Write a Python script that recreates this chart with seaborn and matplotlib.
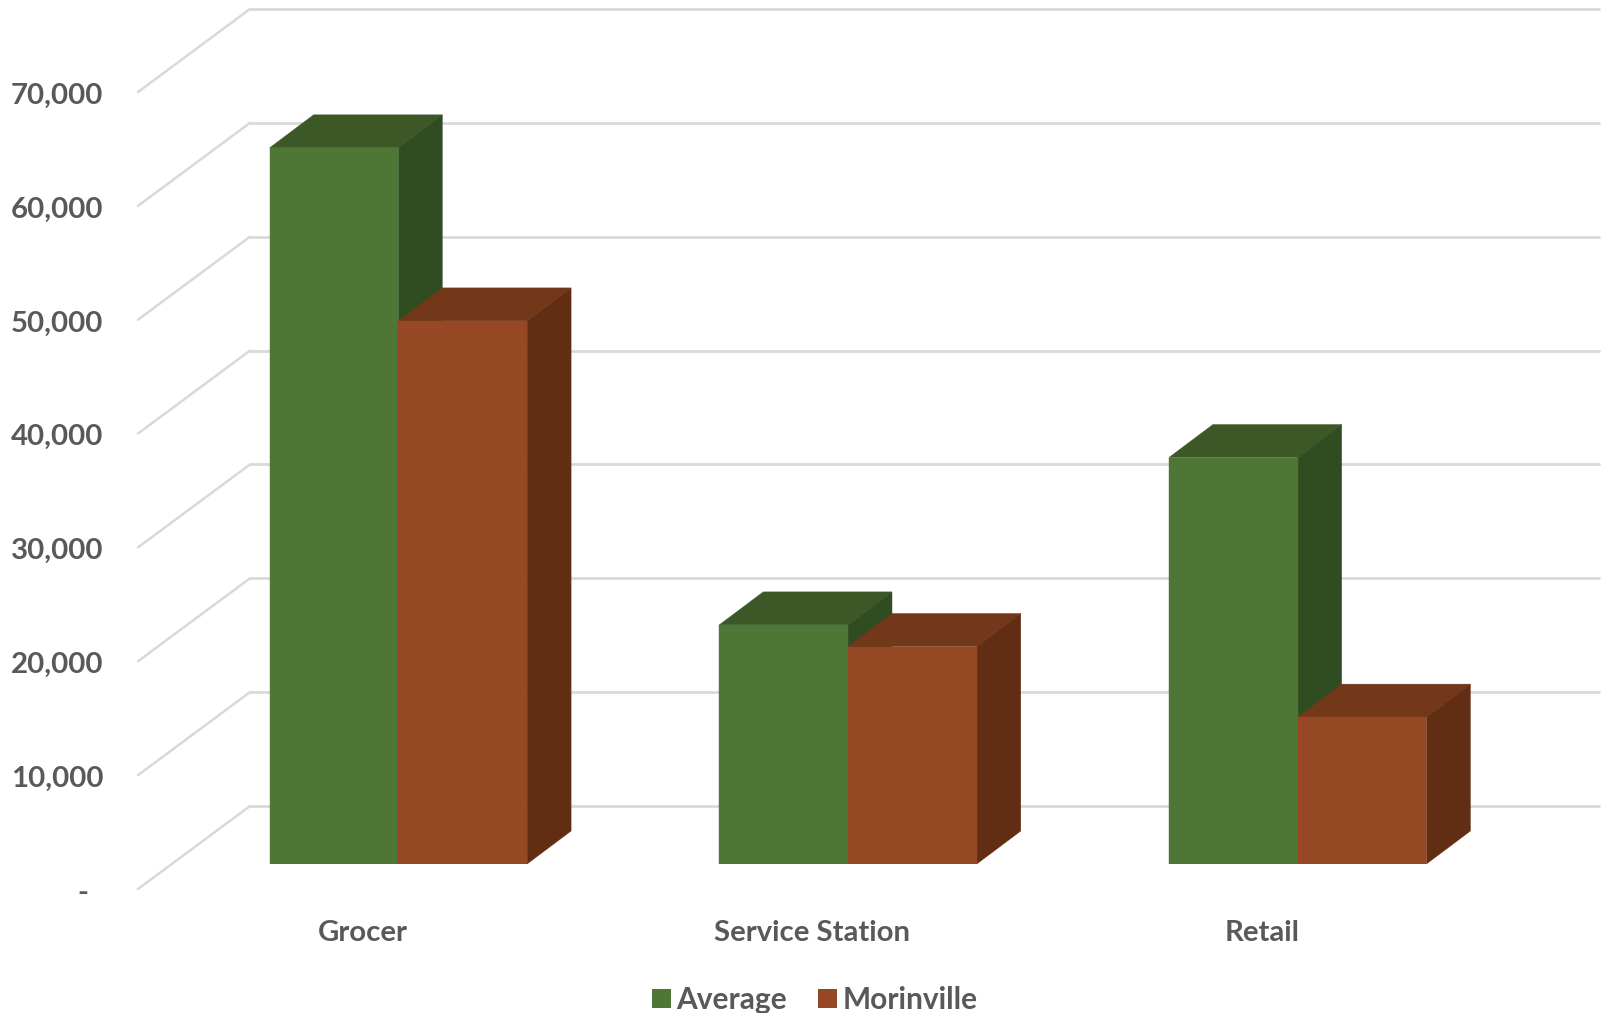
import matplotlib
matplotlib.use("Agg")
import matplotlib.pyplot as plt
from matplotlib.patches import Polygon, ConnectionPatch
from matplotlib.transforms import ScaledTranslation
import pandas as pd
import seaborn as sns

categories = ["Grocer", "Service Station", "Retail"]
average = [62900, 21000, 35700]
morinville = [47700, 19100, 12900]
series_names = ["Average", "Morinville"]
yticks = [0, 10000, 20000, 30000, 40000, 50000, 60000, 70000]

FRONT = {"Average": "#4E7635", "Morinville": "#964723"}
TOP = {"Average": "#3C5827", "Morinville": "#73371A"}
SIDE = {"Average": "#304C21", "Morinville": "#622E13"}
GRID = "#D9D9D9"
TEXT = "#595959"
FONT = "Lato"
FS = 21.2

W, H = 1602, 1013
sns.set_theme(style="white")
plt.rcParams["font.family"] = [FONT, "DejaVu Sans"]
fig = plt.figure(figsize=(W / 100, H / 100), dpi=100, facecolor="white")

PLOT_W, PLOT_H = 1349, 797


def make_axes(left_px, base_px, z):
    ax = fig.add_axes([left_px / W, 1 - base_px / H, PLOT_W / W, PLOT_H / H], zorder=z)
    ax.set_xlim(-0.5, 2.5)
    ax.set_ylim(0, 70000)
    ax.patch.set_alpha(0)
    sns.despine(ax=ax, left=True, bottom=True)
    return ax


ax_back = make_axes(250, 806, 0)
ax_front = make_axes(138, 889, 1)
ax_bar = make_axes(173.5, 864, 2)

# Back wall
ax_back.set_yticks(yticks)
ax_back.set_xticks([])
ax_back.tick_params(left=False, labelleft=False)
ax_back.grid(axis="y", color=GRID, lw=2.0)
ax_back.set_axisbelow(True)
for s in ax_back.spines.values():
    s.set_visible(False)
for line in ax_back.get_ygridlines():
    line.set_clip_on(False)

# Side wall
for v in yticks:
    fig.add_artist(ConnectionPatch(xyA=(-0.5, v), coordsA=ax_front.transData,
                                   xyB=(-0.5, v), coordsB=ax_back.transData,
                                   color=GRID, lw=1.8, zorder=0.5))

# Axis labels on the front edge of the floor
ax_front.set_xticks(range(3))
ax_front.set_xticklabels(categories)
ax_front.set_yticks(yticks)
ax_front.set_yticklabels(["-  "] + [f"{v:,}" for v in yticks[1:]])
ax_front.tick_params(axis="both", length=0, labelcolor=TEXT, labelsize=FS)
ax_front.tick_params(axis="x", pad=22.5)
ax_front.tick_params(axis="y", pad=25)
shift = ScaledTranslation(0, -0.9 / 72, fig.dpi_scale_trans)
for lab in ax_front.get_xticklabels() + ax_front.get_yticklabels():
    lab.set_fontweight("bold")
for lab in ax_front.get_yticklabels():
    lab.set_transform(lab.get_transform() + shift)
for s in ax_front.spines.values():
    s.set_visible(False)

# Bars
df = pd.DataFrame({
    "category": categories * 2,
    "series": [series_names[0]] * 3 + [series_names[1]] * 3,
    "value": average + morinville,
})
sns.barplot(data=df, x="category", y="value", hue="series", order=categories,
            hue_order=series_names, palette=FRONT, width=0.5727, gap=0, saturation=1,
            legend=False, ax=ax_bar, linewidth=0)
ax_bar.set_xlim(-0.5, 2.5)
ax_bar.set_ylim(0, 70000)
ax_bar.axis("off")

dx = 44.0 / (PLOT_W / 3)
dy = 33.0 / PLOT_H * 70000
for i, (name, cont) in enumerate(zip(series_names, ax_bar.containers)):
    z = 3 + i
    for bar in cont:
        bar.set_zorder(z + 0.2)
        bar.set_edgecolor(FRONT[name])
        bar.set_linewidth(0.3)
        x0, x1, v = bar.get_x(), bar.get_x() + bar.get_width(), bar.get_height()
        ax_bar.add_patch(Polygon([(x0, v), (x1, v), (x1 + dx, v + dy), (x0 + dx, v + dy)],
                                 closed=True, fc=TOP[name], ec=TOP[name], lw=0.3, zorder=z, clip_on=False))
        ax_bar.add_patch(Polygon([(x1, 0), (x1 + dx, dy), (x1 + dx, v + dy), (x1, v)],
                                 closed=True, fc=SIDE[name], ec=SIDE[name], lw=0.3, zorder=z, clip_on=False))

# Legend
handles = [plt.Rectangle((0, 0), 1, 1, fc=FRONT[n], lw=0) for n in series_names]
leg = fig.legend(handles, series_names, loc="center", ncol=2,
                 bbox_to_anchor=(815 / W, 1 - 1000 / H), frameon=False,
                 handlelength=0.62, handleheight=0.62, handletextpad=0.19,
                 columnspacing=1.05, borderpad=0, labelcolor=TEXT,
                 prop={"family": FONT, "weight": "bold", "size": 21.5})

fig.savefig("out.png", dpi=100, facecolor="white")
